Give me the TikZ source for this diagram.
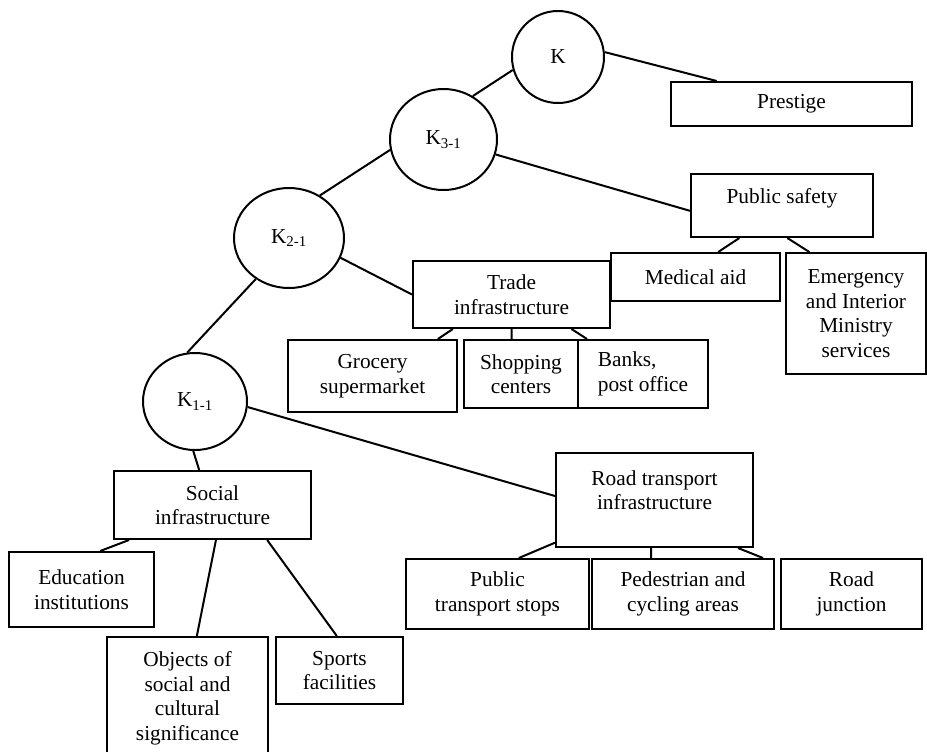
\documentclass[tikz,border=0pt]{standalone}
\usepackage{fontspec}
\setmainfont{Liberation Serif}
\usetikzlibrary{shapes.geometric}

\begin{document}
\begin{tikzpicture}[
    x=0.75pt, y=-0.75pt,
    line width=1.5pt,
    box/.style={rectangle, draw, align=center, inner sep=0pt, font=\fontsize{16}{18.4}\selectfont},
    knode/.style={ellipse, draw, inner sep=0pt, font=\fontsize{16}{18.4}\selectfont}
]

\useasboundingbox (0,0) rectangle (927,751);

% Indicator nodes
\node[knode, minimum width=69pt, minimum height=69pt] (k) at (558,57) {K};
\node[knode, minimum width=80.25pt, minimum height=75.75pt] (k31) at (443.5,139.5) {K\textsubscript{3-1}};
\node[knode, minimum width=82.5pt, minimum height=75pt] (k21) at (289,238) {K\textsubscript{2-1}};
\node[knode, minimum width=78pt, minimum height=72.75pt] (k11) at (195,401.5) {K\textsubscript{1-1}};

% Top level factors
\node[box, minimum width=180.75pt, minimum height=33pt] (prestige) at (791.5,104) {Prestige};
\node[box, minimum width=136.5pt, minimum height=47.25pt, text depth=14pt] (psafety) at (782,205.5) {Public safety};
\node[box, minimum width=126.75pt, minimum height=36pt] (medical) at (695.5,277) {Medical aid};
\node[box, minimum width=105pt, minimum height=90.75pt] (emergency) at (856,313.5) {Emergency\\and Interior\\Ministry\\services};

% Trade infrastructure
\node[box, minimum width=147.75pt, minimum height=50.25pt] (trade) at (511.5,294.5) {Trade\\infrastructure};
\node[box, minimum width=126.75pt, minimum height=54pt] (grocery) at (372.5,376) {Grocery\\supermarket};
\node[box, minimum width=85.5pt, minimum height=51pt] (shopping) at (521,374) {Shopping\\centers};
\node[box, minimum width=97.5pt, minimum height=51pt, align=left] (banks) at (643,374) {Banks,\\post office};

% Social infrastructure
\node[box, minimum width=147.75pt, minimum height=51pt] (social) at (212.5,505) {Social\\infrastructure};
\node[box, minimum width=108.75pt, minimum height=56.25pt] (edu) at (81.5,589.5) {Education\\institutions};
\node[box, minimum width=120.75pt, minimum height=92.25pt] (objects) at (187.5,698.5) {Objects of\\social and\\cultural\\significance};
\node[box, minimum width=95.25pt, minimum height=50.25pt] (sports) at (339.5,670.5) {Sports\\facilities};

% Road transport infrastructure
\node[box, minimum width=147.75pt, minimum height=70.5pt, text depth=15pt] (road) at (654.5,500) {Road transport\\infrastructure};
\node[box, minimum width=137.25pt, minimum height=52.5pt] (ptstops) at (497.5,594) {Public\\transport stops};
\node[box, minimum width=136.5pt, minimum height=52.5pt] (pedestrian) at (683,594) {Pedestrian and\\cycling areas};
\node[box, minimum width=105.75pt, minimum height=52.5pt] (junction) at (851.5,594) {Road\\junction};

% Links between levels
\draw (k31.56) -- (k.196);
\draw (k.6) -- ([xshift=35pt]prestige.north west);
\draw (k31.-16) -- ([yshift=-4pt]psafety.west);
\draw (k31.191) -- (k21.54);
\draw (k21.-21) -- (trade.west);
\draw (k21.231) -- (k11.99);
\draw (k11.-6) -- ([yshift=3pt]road.west);
\draw (k11.268) -- ([xshift=-10pt]social.north);

% Links to sub-factors
\draw ([xshift=-32pt]psafety.south) -- ([xshift=17pt]medical.north);
\draw ([xshift=4pt]psafety.south) -- ([xshift=-35pt]emergency.north);
\draw ([xshift=-44pt]trade.south) -- ([xshift=49pt]grocery.north);
\draw (trade.south) -- ([xshift=-7pt]shopping.north);
\draw ([xshift=45pt]trade.south) -- ([xshift=-42pt]banks.north);
\draw ([xshift=12pt]social.south west) -- ([xshift=14pt]edu.north);
\draw ([xshift=2.6pt]social.south) -- ([xshift=7pt]objects.north);
\draw ([xshift=41pt]social.south) -- ([xshift=-2pt]sports.north);
\draw ([yshift=4pt]road.south west) -- ([xshift=16pt]ptstops.north);
\draw ([xshift=-2.6pt]road.south) -- ([xshift=-24pt]pedestrian.north);
\draw ([xshift=62.6pt]road.south) -- ([xshift=-9pt]pedestrian.north east);

\end{tikzpicture}
\end{document}
